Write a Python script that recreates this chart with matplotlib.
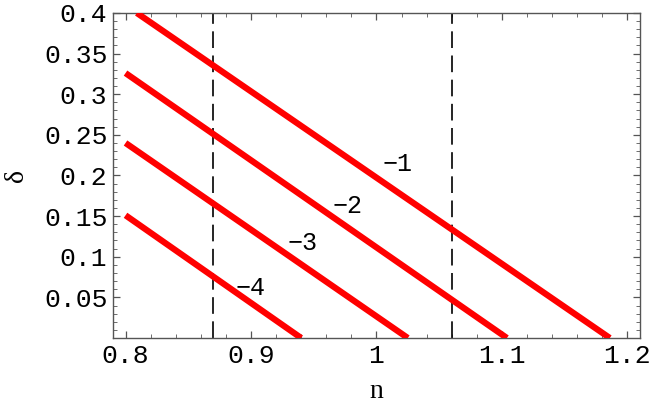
import matplotlib
matplotlib.use("Agg")
import matplotlib.pyplot as plt
from matplotlib.ticker import MultipleLocator, FixedLocator

# contour lines: start and end points in (n, delta)
levels = ["\u22121", "\u22122", "\u22123", "\u22124"]
n_start = [0.809, 0.800, 0.800, 0.800]
d_start = [0.400, 0.326, 0.240, 0.151]
n_end = [1.186, 1.104, 1.025, 0.940]
d_end = [0.0, 0.0, 0.0, 0.0]

# label positions
label_n = [1.017, 0.977, 0.941, 0.900]
label_d = [0.214, 0.163, 0.117, 0.062]

# vertical dashed lines
n_marks = [0.870, 1.060]

xticks = [0.8, 0.9, 1.0, 1.1, 1.2]
xticklabels = ["0.8", "0.9", "1", "1.1", "1.2"]
yticks = [0.05, 0.1, 0.15, 0.2, 0.25, 0.3, 0.35, 0.4]
yticklabels = ["0.05", "0.1", "0.15", "0.2", "0.25", "0.3", "0.35", "0.4"]

fig = plt.figure(figsize=(6.55, 4.05), dpi=100)
ax = fig.add_axes([0.1725, 0.1654, 0.8045, 0.8026])

for i in range(len(levels)):
    ax.plot([n_start[i], n_end[i]], [d_start[i], d_end[i]],
            color="#ff0000", lw=4.5, solid_capstyle="butt", zorder=3)
    ax.text(label_n[i], label_d[i], levels[i], fontsize=18,
            family="Liberation Mono", ha="center", va="center")

for x in n_marks:
    ax.axvline(x, color="black", lw=1.2, linestyle=(0, (10, 4.5)), zorder=2)

ax.set_xlim(0.79, 1.21)
ax.set_ylim(0.0, 0.4)

ax.xaxis.set_major_locator(FixedLocator(xticks))
ax.set_xticklabels(xticklabels)
ax.yaxis.set_major_locator(FixedLocator(yticks))
ax.set_yticklabels(yticklabels)
ax.xaxis.set_minor_locator(MultipleLocator(0.02))
ax.yaxis.set_minor_locator(MultipleLocator(0.01))

frame_col = "#555555"
for s in ax.spines.values():
    s.set_color(frame_col)
    s.set_linewidth(1.0)
ax.tick_params(which="both", direction="in", top=True, right=True,
               color=frame_col)
ax.tick_params(which="major", length=5, width=0.9)
ax.tick_params(which="minor", length=3, width=0.6)
ax.tick_params(axis="x", which="major", pad=4)
ax.tick_params(axis="y", which="major", pad=4)
for lab in ax.get_xticklabels() + ax.get_yticklabels():
    lab.set_family("Liberation Mono")
    lab.set_fontsize(19)

ax.set_xlabel("n", family="Liberation Serif", fontsize=20, labelpad=8)
ax.set_ylabel("\u03b4", family="Liberation Serif", fontsize=20,
              rotation=90, labelpad=11)

plt.savefig("out.png", dpi=100)
